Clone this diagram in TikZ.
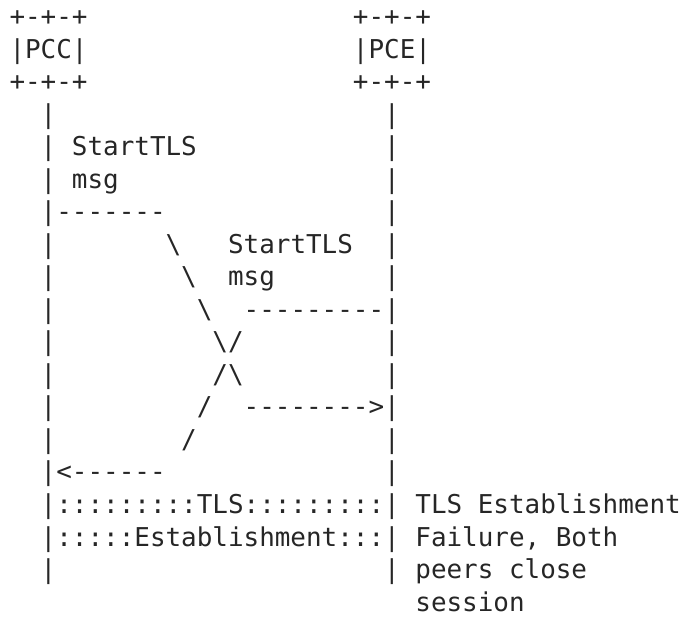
\documentclass[tikz,border=0pt]{standalone}
\usepackage{fontspec}
\setmonofont{DejaVu Sans Mono}
\definecolor{ink}{HTML}{262626}
\tikzset{
    ascii/.style={font=\ttfamily\fontsize{25.93pt}{30pt}\selectfont, text=ink, inner sep=0pt, anchor=base west},
}
\begin{document}
\begin{tikzpicture}[x=15.61pt, y=-32.53pt]
    % frame with the margins of the page
    \useasboundingbox (-0.596,-0.784) rectangle (43.22,18.245);

    % PCC box
    \node[ascii] (pcctop) at (0,0) {+-+-+};
    \node[ascii] (pcc) at (0,1) {|PCC|};
    \node[ascii] (pccbot) at (0,2) {+-+-+};

    % PCE box
    \node[ascii] (pcetop) at (22,0) {+-+-+};
    \node[ascii] (pce) at (22,1) {|PCE|};
    \node[ascii] (pcebot) at (22,2) {+-+-+};

    % life lines
    \foreach \r in {3,...,17} {
        \node[ascii] (pccline\r) at (2,\r) {|};
        \node[ascii] (pceline\r) at (24,\r) {|};
    }

    % StartTLS from PCC
    \node[ascii] (pccmsg) at (4,4) {StartTLS};
    \node[ascii] (pccmsgb) at (4,5) {msg};
    \node[ascii] (pccout) at (3,6) {-------};
    \foreach \c/\r in {10/7,11/8,12/9,13/10,14/11}
        \node[ascii] (down\r) at (\c,\r) {\textbackslash};
    \node[ascii] (pcein) at (15,12) {-------->};

    % StartTLS from PCE
    \node[ascii] (pcemsg) at (14,7) {StartTLS};
    \node[ascii] (pcemsgb) at (14,8) {msg};
    \node[ascii] (pceout) at (15,9) {---------};
    \foreach \c/\r in {14/10,13/11,12/12,11/13}
        \node[ascii] (up\r) at (\c,\r) {/};
    \node[ascii] (pccin) at (3,14) {<------};

    % failed establishment
    \node[ascii] (tls) at (3,15) {:::::::::TLS:::::::::};
    \node[ascii] (est) at (3,16) {:::::Establishment:::};
    \node[ascii] (note) at (26,15) {TLS Establishment};
    \node[ascii] (noteb) at (26,16) {Failure, Both};
    \node[ascii] (notec) at (26,17) {peers close};
    \node[ascii] (noted) at (26,18) {session};
\end{tikzpicture}
\end{document}
